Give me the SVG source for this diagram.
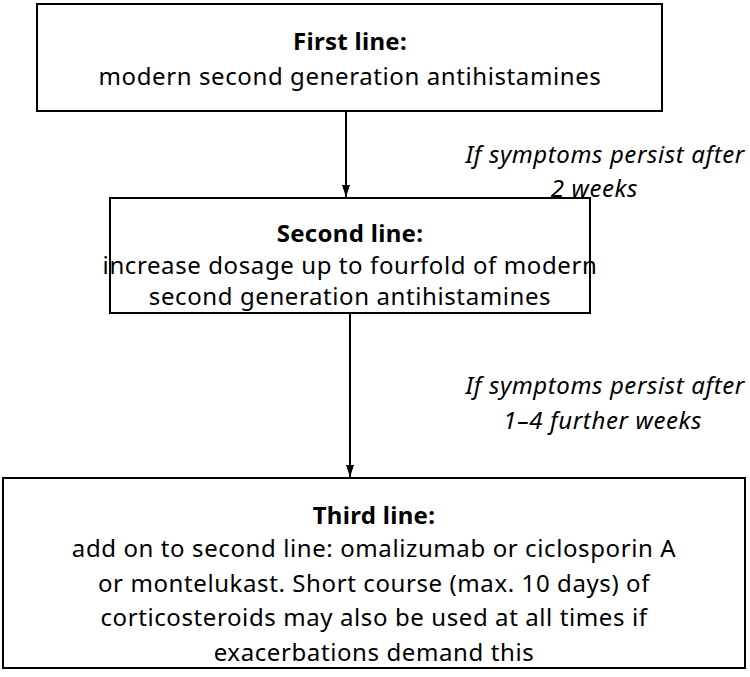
<svg xmlns="http://www.w3.org/2000/svg" width="750" height="677" viewBox="0 0 750 677">
<style>
.box{fill:#fff;stroke:#000;stroke-width:2}
text{font-family:"Noto Sans","Open Sans",sans-serif;font-size:24px;letter-spacing:0.6px;fill:#000;text-anchor:middle}
.b{font-weight:bold;letter-spacing:0.3px}
.i{font-style:italic;text-anchor:end;letter-spacing:0.6px}
.c{stroke:#000;stroke-width:2;fill:none}
</style>
<defs><marker id="a" markerWidth="12" markerHeight="18" refX="18" refY="6" orient="auto" markerUnits="userSpaceOnUse" viewBox="0 0 18 12"><path d="M0,0L18,6L0,12z" fill="#000"/></marker></defs>
<rect width="750" height="677" fill="#fff"/>
<g id="connectors">
<line class="c" x1="346" y1="111" x2="346" y2="197" marker-end="url(#a)"/>
<line class="c" x1="350" y1="313" x2="350" y2="477" marker-end="url(#a)"/>
<text class="i" x="745" y="163">If symptoms persist after</text>
<text class="i" x="638" y="197">2 weeks</text>
<text class="i" x="745" y="394">If symptoms persist after</text>
<text class="i" x="702" y="429">1–4 further weeks</text>
</g>
<g id="n1"><rect class="box" x="37" y="4" width="625" height="107"/>
<text class="b" x="350" y="50">First line:</text>
<text x="350" y="85">modern second generation antihistamines</text></g>
<g id="n2"><rect class="box" x="110" y="198" width="480" height="115"/>
<text class="b" x="350" y="242">Second line:</text>
<text x="350" y="274">increase dosage up to fourfold of modern</text>
<text x="350" y="305">second generation antihistamines</text></g>
<g id="n3"><rect class="box" x="3" y="478" width="742" height="190"/>
<text class="b" x="374" y="524">Third line:</text>
<text x="374" y="557">add on to second line: omalizumab or ciclosporin A</text>
<text x="374" y="592">or montelukast. Short course (max. 10 days) of</text>
<text x="374" y="626">corticosteroids may also be used at all times if</text>
<text x="374" y="661">exacerbations demand this</text></g>
</svg>
